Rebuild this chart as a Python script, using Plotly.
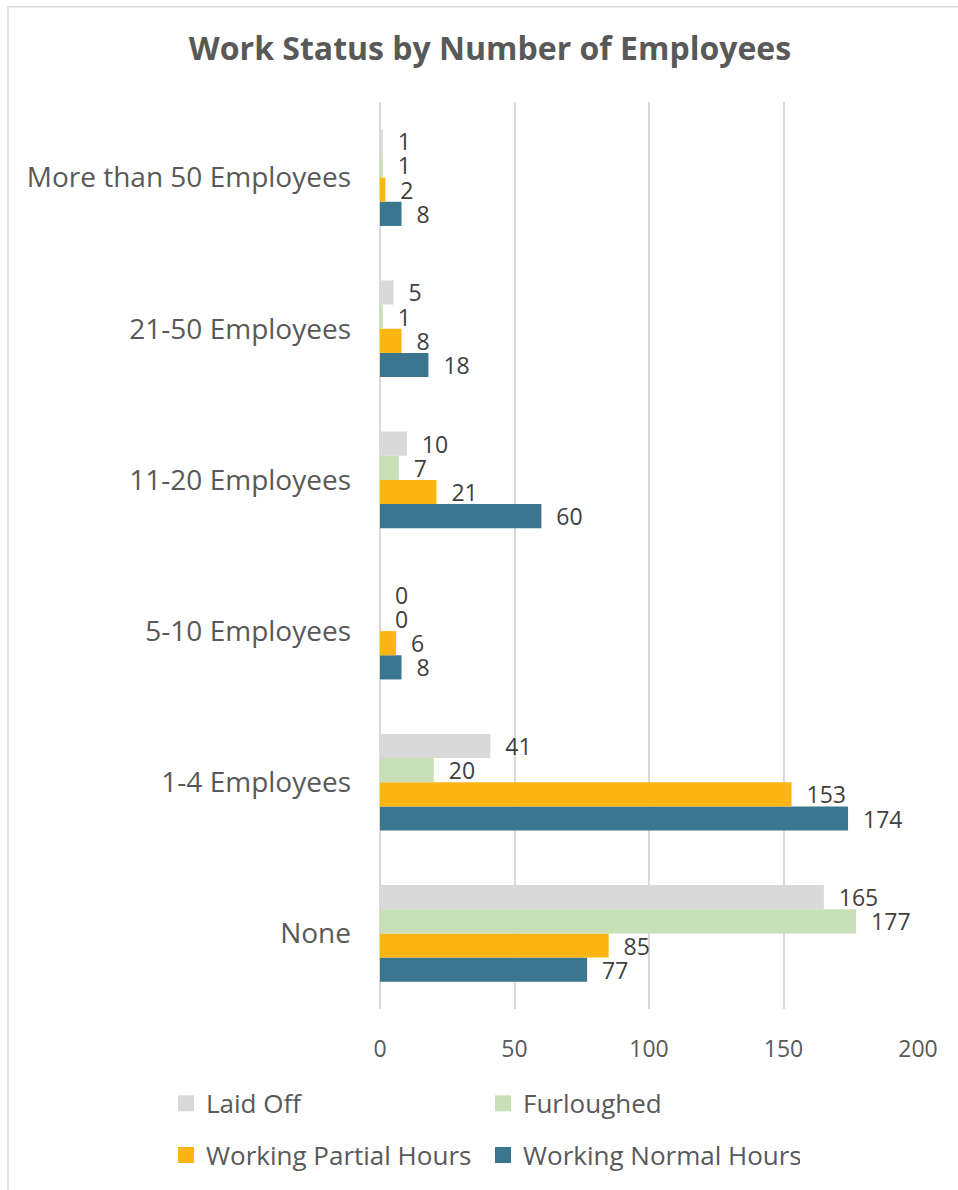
import plotly.graph_objects as go

categories = ["None", "1-4 Employees", "5-10 Employees", "11-20 Employees",
              "21-50 Employees", "More than 50 Employees"]
laid_off = [165, 41, 0, 10, 5, 1]
furloughed = [177, 20, 0, 7, 1, 1]
partial_hours = [85, 153, 6, 21, 8, 2]
normal_hours = [77, 174, 8, 60, 18, 8]
x_ticks = [0, 50, 100, 150, 200]

W, H = 958, 1190
ML, MR, MT, MB = 380, 40, 102, 175
PW, PH = W - ML - MR, H - MT - MB

def px_x(px):
    return (px - ML) / PW

def px_y(py):
    return (H - MB - py) / PH

FONT = "Open Sans"
TXT = "#595959"

series = [
    ("Working Normal Hours", normal_hours, "#3B768F", 4, "legend2"),
    ("Working Partial Hours", partial_hours, "#FDB515", 3, "legend2"),
    ("Furloughed", furloughed, "#C9DFB7", 2, "legend"),
    ("Laid Off", laid_off, "#D9D9D9", 1, "legend"),
]

fig = go.Figure()
for name, vals, color, rank, leg in series:
    fig.add_trace(go.Bar(
        y=categories, x=vals, name=name, orientation="h",
        marker=dict(color=color, line=dict(width=0)),
        text=vals, texttemplate="\u00a0\u00a0%{x}", textposition="outside",
        constraintext="none",
        textfont=dict(family=FONT, size=23, color="#404040"),
        cliponaxis=False, showlegend=False,
    ))
# legend keys (square swatches) for each series
for name, vals, color, rank, leg in series:
    fig.add_trace(go.Scatter(
        x=[None], y=[None], mode="markers", name=name,
        marker=dict(symbol="square", size=17, color=color),
        legendrank=rank, legend=leg, showlegend=True,
    ))

legend_font = dict(family=FONT, size=26, color=TXT)
legend_common = dict(orientation="h", x=px_x(166), xanchor="left",
                     yanchor="middle", entrywidth=272, font=legend_font,
                     traceorder="normal", itemsizing="trace",
                     bgcolor="rgba(0,0,0,0)")
fig.update_layout(
    width=W, height=H,
    margin=dict(l=ML, r=MR, t=MT, b=MB),
    paper_bgcolor="white", plot_bgcolor="white",
    barmode="group", bargap=0.36, bargroupgap=0,
    font=dict(family=FONT, color=TXT),
    title=dict(text="<b>Work Status by Number of Employees</b>",
               font=dict(family=FONT, size=32, color=TXT),
               x=490 / W, xanchor="center", y=1 - 49 / H, yanchor="middle",
               yref="container"),
    xaxis=dict(range=[0, 200], tickvals=x_ticks, showgrid=True,
               gridcolor="#D9D9D9", gridwidth=1.5, zeroline=True,
               zerolinecolor="#D9D9D9", zerolinewidth=1.5, showline=False,
               tickfont=dict(family=FONT, size=23, color=TXT), ticks="",
               ticklabelstandoff=24),
    yaxis=dict(categoryorder="array", categoryarray=categories,
               showgrid=False, zeroline=False, showline=False, ticks="",
               tickfont=dict(family=FONT, size=28, color=TXT),
               ticklabelstandoff=28),
    legend=dict(y=px_y(1110), **legend_common),
    legend2=dict(y=px_y(1162), **legend_common),
    shapes=[dict(type="rect", xref="paper", yref="paper",
                 x0=px_x(8), x1=px_x(1000), y0=px_y(1250), y1=px_y(6),
                 line=dict(color="#D9D9D9", width=1.5), layer="below")],
)

fig.write_html(
    "out.html",
    config={"displayModeBar": False},
    post_script="document.body.style.margin='0';document.body.style.overflow='hidden';",
)
